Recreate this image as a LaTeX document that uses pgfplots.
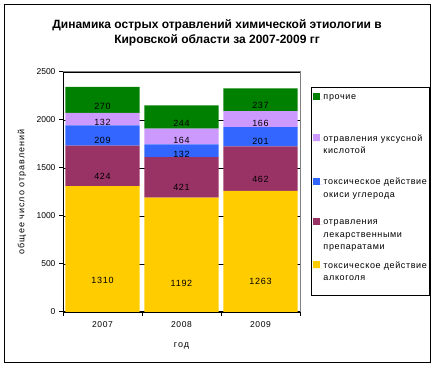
\documentclass[border=0pt]{standalone}
\usepackage{fontspec}
\setmainfont{Liberation Sans}
\newfontfamily\legfont[LetterSpace=7]{Liberation Sans}
\newfontfamily\ylabfont[LetterSpace=11]{Liberation Sans}
\newfontfamily\xtickfont[LetterSpace=8]{Liberation Sans}
\newfontfamily\datafont[LetterSpace=8]{Liberation Sans}
\usepackage{pgfplots}
\usepackage{pgfplotstable}
\pgfplotsset{compat=1.18}
\definecolor{cAlc}{HTML}{FFCC00}
\definecolor{cDrug}{HTML}{993366}
\definecolor{cCO}{HTML}{3366FF}
\definecolor{cAcid}{HTML}{CC99FF}
\definecolor{cOther}{HTML}{008000}
\pgfplotstableread{
x alc drug co acid other
0 1310 424 209 132 270
1 1192 421 132 164 244
2 1263 462 201 166 237
}\data
\newcommand{\legtext}[2]{\parbox[t][#1][t]{104pt}{\raggedright\hfuzz=20pt\legfont\fontsize{9}{12.5}\selectfont\strut #2}}
\begin{document}
\begin{tikzpicture}[x=1pt,y=1pt]
\useasboundingbox (0,0) rectangle (439,369);
\draw[black, line width=1pt] (4.5,6.5) rectangle (430.5,364.5);
\begin{axis}[
  at={(63pt,57pt)}, anchor=south west,
  scale only axis, width=237pt, height=240pt,
  ybar stacked, bar width=0.94,
  xmin=-0.5, xmax=2.5, ymin=0, ymax=2500,
  enlargelimits=false,
  axis x line*=bottom, axis y line*=left,
  axis line style={line width=1pt, black},
  xtick={-0.5,0.5,1.5,2.5}, xticklabels={},
  extra x ticks={0,1,2}, extra x tick labels={2007,2008,2009},
  extra x tick style={major tick length=0pt, grid=none},
  ytick={0,500,...,2500},
  ymajorgrids, grid style={black, line width=0.8pt},
  tick align=outside, major tick length=4pt,
  tick style={black, line width=1pt},
  /pgf/number format/assume math mode=true,
  /pgf/number format/1000 sep={},
  tick label style={font=\fontsize{8.5}{10}\selectfont, black},
  xticklabel style={font=\xtickfont\fontsize{8.5}{10}\selectfont, yshift=-6pt},
  ylabel={общее число отравлений},
  xlabel={год},
  label style={font=\fontsize{9}{11}\selectfont},
  ylabel style={font=\ylabfont\fontsize{9}{11}\selectfont, at={(axis description cs:-0.173,0.5)}, anchor=center},
  xlabel style={font=\ylabfont\fontsize{9}{11}\selectfont, at={(axis description cs:0.5,-0.1413)}, anchor=center},
  title={Динамика острых отравлений химической этиологии в\\Кировской области за 2007-2009 гг},
  title style={font=\bfseries\fontsize{12}{15}\selectfont, align=center, at={(axis description cs:0.65,1.14)}, anchor=center},
  point meta=explicit,
  nodes near coords,
  nodes near coords style={font=\datafont\fontsize{9}{10}\selectfont, black, anchor=center},
  every node near coord/.append style={yshift={-0.024*\rawy}},
  legend style={at={(axis description cs:1.0464,0.9375)}, anchor=north west,
    draw=black, line width=1pt, inner xsep=2pt, inner ysep=3.25pt,
    row sep=0pt, column sep=0pt,
    cells={anchor=base west},
    nodes={inner sep=0pt, text depth=, anchor=base west}},
  legend image code/.code={\fill[#1] (0pt,0pt) rectangle (7pt,7pt); \path (0pt,0pt) -- (10pt,0pt);},
  reverse legend,
  after end axis/.code={\draw[gray, line width=1pt] (rel axis cs:0,1) -- (rel axis cs:1,1) -- (rel axis cs:1,0);},
]
\addplot[fill=cAlc, draw=none, visualization depends on={\thisrow{alc}\as\rawy}] table[x=x,y=alc,meta=alc]{\data};
\addlegendentry{\legtext{32.5pt}{\mbox{токсическое действие}\\алкоголя}}
\addplot[fill=cDrug, draw=none, visualization depends on={\thisrow{drug}\as\rawy}] table[x=x,y=drug,meta=drug]{\data};
\addlegendentry{\legtext{43.4pt}{отравления\\лекарственными\\препаратами}}
\addplot[fill=cCO, draw=none, visualization depends on={\thisrow{co}\as\rawy}] table[x=x,y=co,meta=co]{\data};
\addlegendentry{\legtext{40pt}{\mbox{токсическое действие}\\окиси углерода}}
\addplot[fill=cAcid, draw=none, visualization depends on={\thisrow{acid}\as\rawy}] table[x=x,y=acid,meta=acid]{\data};
\addlegendentry{\legtext{43.6pt}{\mbox{отравления уксусной}\\кислотой}}
\addplot[fill=cOther, draw=none, visualization depends on={\thisrow{other}\as\rawy}] table[x=x,y=other,meta=other]{\data};
\addlegendentry{\legtext{41.7pt}{прочие}}
\end{axis}
\end{tikzpicture}
\end{document}
